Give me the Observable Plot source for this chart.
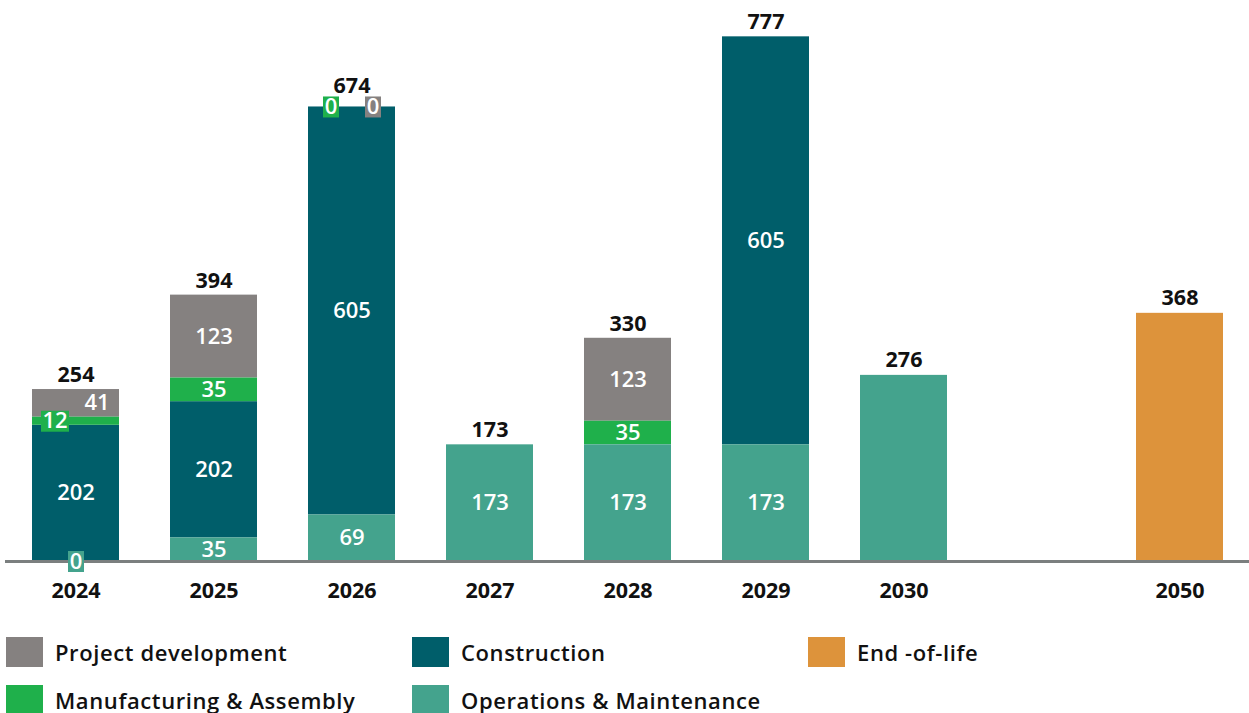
<!DOCTYPE html>
<html>
<head>
<meta charset="utf-8">
<script src="https://cdn.jsdelivr.net/npm/d3@7"></script>
<script src="https://cdn.jsdelivr.net/npm/@observablehq/plot@0.6"></script>
<style>
  body { margin: 0; background: #fff; font-family: "Open Sans", Lato, sans-serif; }
  #chart svg { display: block; }
  .legend { display: grid; grid-template-columns: 406px 396px 400px; row-gap: 18px; margin-top: 27px; padding-left: 6px; }
  .item { display: flex; align-items: center; height: 30px; font-size: 22px; font-weight: 600; letter-spacing: 0.6px; color: #111; }
  .sw { width: 37px; height: 30px; margin-right: 12px; flex: none; }
</style>
</head>
<body>
<div id="chart"></div>
<div class="legend" id="legend"></div>
<script>
// ---- data ----
const years = ["2024", "2025", "2026", "2027", "2028", "2029", "2030", "2050"];
const xDomain = ["2024", "2025", "2026", "2027", "2028", "2029", "2030", "", "2050"];
const seriesNames = ["Project development", "Construction", "End-of-life", "Manufacturing & Assembly", "Operations & Maintenance"];
const stackOrder = ["Operations & Maintenance", "Construction", "Manufacturing & Assembly", "Project development", "End-of-life"];
const seriesColors = ["#858180", "#005e6a", "#dd933b", "#1fb04b", "#44a38d"];

const projectDevelopment = [41, 123, 0, null, 123, null, null, null];
const manufacturing      = [12, 35, 0, null, 35, null, null, null];
const construction       = [202, 202, 605, null, null, 605, null, null];
const operations         = [0, 35, 69, 173, 173, 173, 276, null];
const endOfLife          = [null, null, null, null, null, null, null, 368];
const totals             = [254, 394, 674, 173, 330, 777, 276, 368];
const segmentLabelled    = [true, true, true, true, true, true, false, false];

const seriesValues = {
  "Project development": projectDevelopment,
  "Construction": construction,
  "End-of-life": endOfLife,
  "Manufacturing & Assembly": manufacturing,
  "Operations & Maintenance": operations
};

const data = [];
for (const s of seriesNames) {
  seriesValues[s].forEach((v, i) => { if (v != null) data.push({year: years[i], series: s, value: v, labelled: segmentLabelled[i]}); });
}

// label placement logic for tiny segments
const SMALL = 20;
function shift(d) {
  const i = years.indexOf(d.year);
  if (d.series === "Manufacturing & Assembly" && d.value < SMALL) return -1;
  if (d.series === "Project development" && manufacturing[i] != null && manufacturing[i] < SMALL) return 1;
  return 0;
}
function boxSymbol(w, h) {
  return {draw(ctx) { ctx.rect(-w / 2, -h / 2, w, h); }};
}
// totals sit a little higher when the top segment label is a boxed tiny value
const totalData = years.map((y, i) => ({
  year: y, total: totals[i],
  raised: projectDevelopment[i] != null && projectDevelopment[i] < SMALL
}));

const labelMarks = [];
for (const side of [-1, 0, 1]) {
  for (const digits of [1, 2, 3]) {
    const test = d => d.labelled && shift(d) === side && d.value < SMALL && String(d.value).length === digits;
    labelMarks.push(Plot.dot(data, Plot.filter(test, Plot.stackY({
      x: "year", y: "value", z: "series", order: stackOrder,
      fill: "series", r: 1, symbol: boxSymbol(4 + 12 * digits, 21), dx: side * 21
    }))));
  }
  labelMarks.push(Plot.text(data, Plot.filter(d => d.labelled && shift(d) === side, Plot.stackY({
    x: "year", y: "value", z: "series", order: stackOrder,
    text: d => String(d.value), fill: "white", fontSize: 22, fontWeight: 600,
    dx: side * 21
  }))));
}

const chart = Plot.plot({
  width: 1249,
  height: 610,
  marginTop: 21.5,
  marginBottom: 49,
  marginLeft: 30,
  marginRight: 24,
  style: {fontFamily: "'Open Sans', Lato, sans-serif", background: "white"},
  x: {type: "band", domain: xDomain, paddingInner: 0.372, paddingOuter: 0, align: 0.5},
  y: {domain: [0, 800], axis: null},
  color: {domain: seriesNames, range: seriesColors},
  marks: [
    Plot.barY(data, {x: "year", y: "value", z: "series", fill: "series", order: stackOrder}),
    Plot.ruleY([0], {stroke: "#7b7f7f", strokeWidth: 3, insetLeft: -25, insetRight: -24}),
    ...labelMarks,
    Plot.text(totalData.filter(d => !d.raised), {x: "year", y: "total", text: d => String(d.total), dy: -15, fontSize: 21.5, fontWeight: 700, fill: "#111"}),
    Plot.text(totalData.filter(d => d.raised), {x: "year", y: "total", text: d => String(d.total), dy: -21, fontSize: 21.5, fontWeight: 700, fill: "#111"}),
    Plot.axisX({ticks: years, tickSize: 0, tickPadding: 21, fontSize: 21.5, fontWeight: 700, color: "#111", label: null})
  ]
});
document.getElementById("chart").appendChild(chart);

// legend
const legendOrder = ["Project development", "Construction", "End-of-life", "Manufacturing & Assembly", "Operations & Maintenance"];
const legend = document.getElementById("legend");
for (const s of legendOrder) {
  const item = document.createElement("div");
  item.className = "item";
  const sw = document.createElement("span");
  sw.className = "sw";
  sw.style.background = seriesColors[seriesNames.indexOf(s)];
  const t = document.createElement("span");
  t.textContent = s === "End-of-life" ? "End -of-life" : s;
  item.appendChild(sw); item.appendChild(t);
  legend.appendChild(item);
}
</script>
</body>
</html>
